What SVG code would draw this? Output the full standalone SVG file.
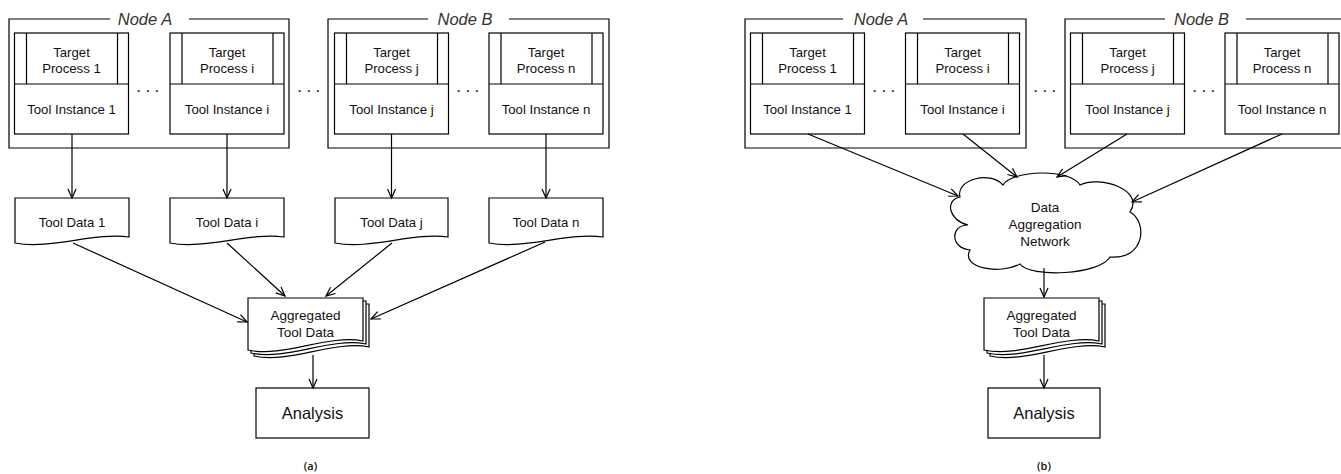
<svg xmlns="http://www.w3.org/2000/svg" xmlns:xlink="http://www.w3.org/1999/xlink" width="1341" height="474" viewBox="0 0 1341 474">
<style>
.s{fill:none;stroke:#000;stroke-width:1.2}
.w{fill:#fff;stroke:#000;stroke-width:1.2}
.t{font-family:"Liberation Sans",Arial,sans-serif;font-size:13.2px;text-anchor:middle;fill:#111}
.t2{font-family:"Liberation Sans",Arial,sans-serif;font-size:13.5px;text-anchor:middle;fill:#111}
.big{font-family:"Liberation Sans",Arial,sans-serif;font-size:16.5px;text-anchor:middle;fill:#111}
.lbl{font-family:"Liberation Sans",Arial,sans-serif;font-size:16.5px;font-style:italic;text-anchor:middle;fill:#333}
.dots{font-family:"Liberation Sans",Arial,sans-serif;font-size:17px;letter-spacing:4.5px;text-anchor:middle;fill:#111}
.cap{font-family:"Open Sans","Liberation Sans",sans-serif;font-size:11px;font-weight:600;text-anchor:middle;fill:#111}
.c{fill:none;stroke:#000;stroke-width:1.2;marker-end:url(#arr)}
</style>
<defs>
<marker id="arr" markerUnits="userSpaceOnUse" markerWidth="12" markerHeight="10" refX="10" refY="5" orient="auto">
<path d="M1,1 L10,5 L1,9" fill="none" stroke="#000" stroke-width="1.2"/>
</marker>
<path id="aggDoc" d="M0,0 H115 V43 C80,36 35,60 0,52 Z"/>
<g id="inst">
<rect x="0" y="0" width="114" height="101" class="w"/>
<line x1="0" y1="51" x2="114" y2="51" class="s"/>
<line x1="12" y1="0" x2="12" y2="51" class="s"/>
<line x1="103" y1="0" x2="103" y2="51" class="s"/>
</g>
</defs>

<!-- ===== (a) ===== -->
<g id="a-nodeA">
<path class="s" d="M189,19 H289 V148 H9 V19 H110"/>
<text class="lbl" x="145" y="25">Node A</text>
</g>
<g id="a-inst1">
<use xlink:href="#inst" x="14.5" y="33"/>
<text class="t" x="71.5" y="57">Target</text>
<text class="t" x="71.5" y="73">Process 1</text>
<text class="t" x="71.5" y="114">Tool Instance 1</text>
</g>
<g id="a-insti">
<use xlink:href="#inst" x="170" y="33"/>
<text class="t" x="227" y="57">Target</text>
<text class="t" x="227" y="73">Process i</text>
<text class="t" x="227" y="114">Tool Instance i</text>
</g>
<g id="a-nodeB">
<path class="s" d="M509,19 H609 V148 H328 V19 H428"/>
<text class="lbl" x="465" y="25">Node B</text>
</g>
<g id="a-instj">
<use xlink:href="#inst" x="334.5" y="33"/>
<text class="t" x="391.5" y="57">Target</text>
<text class="t" x="391.5" y="73">Process j</text>
<text class="t" x="391.5" y="114">Tool Instance j</text>
</g>
<g id="a-instn">
<use xlink:href="#inst" x="489" y="33"/>
<text class="t" x="546" y="57">Target</text>
<text class="t" x="546" y="73">Process n</text>
<text class="t" x="546" y="114">Tool Instance n</text>
</g>
<g id="a-dots">
<text class="dots" x="150" y="92">...</text>
<text class="dots" x="311" y="92">...</text>
<text class="dots" x="470" y="92">...</text>
</g>
<g id="a-data1">
<path class="w" d="M15,198 H129 V237 C95,232 49,250 15,243 Z"/>
<text class="t" x="72" y="227">Tool Data 1</text>
</g>
<g id="a-datai">
<path class="w" d="M170,198 H284 V237 C250,232 204,250 170,243 Z"/>
<text class="t" x="227" y="227">Tool Data i</text>
</g>
<g id="a-dataj">
<path class="w" d="M335,198 H448 V237 C414,232 369,250 335,243 Z"/>
<text class="t" x="391.5" y="227">Tool Data j</text>
</g>
<g id="a-datan">
<path class="w" d="M489,198 H603 V237 C569,232 523,250 489,243 Z"/>
<text class="t" x="546" y="227">Tool Data n</text>
</g>
<g id="a-agg">
<use xlink:href="#aggDoc" class="w" x="254" y="304"/>
<use xlink:href="#aggDoc" class="w" x="251" y="301"/>
<use xlink:href="#aggDoc" class="w" x="248" y="298"/>
<text class="t2" x="305.5" y="320">Aggregated</text>
<text class="t2" x="305.5" y="337">Tool Data</text>
</g>
<g id="a-analysis">
<rect class="w" x="256" y="388" width="113" height="50"/>
<text class="big" x="312.5" y="419">Analysis</text>
</g>
<text class="cap" x="310.5" y="470">(a)</text>

<!-- ===== (b) ===== -->
<g id="b-nodeA">
<path class="s" d="M923,19 H1026 V148 H745 V19 H843"/>
<text class="lbl" x="881" y="25">Node A</text>
</g>
<g id="b-inst1">
<use xlink:href="#inst" x="750.5" y="33"/>
<text class="t" x="807.5" y="57">Target</text>
<text class="t" x="807.5" y="73">Process 1</text>
<text class="t" x="807.5" y="114">Tool Instance 1</text>
</g>
<g id="b-insti">
<use xlink:href="#inst" x="905.5" y="33"/>
<text class="t" x="962.5" y="57">Target</text>
<text class="t" x="962.5" y="73">Process i</text>
<text class="t" x="962.5" y="114">Tool Instance i</text>
</g>
<g id="b-nodeB">
<path class="s" d="M1246,19 H1346 V148 H1065 V19 H1165"/>
<text class="lbl" x="1201.5" y="25">Node B</text>
</g>
<g id="b-instj">
<use xlink:href="#inst" x="1070.5" y="33"/>
<text class="t" x="1127.5" y="57">Target</text>
<text class="t" x="1127.5" y="73">Process j</text>
<text class="t" x="1127.5" y="114">Tool Instance j</text>
</g>
<g id="b-instn">
<use xlink:href="#inst" x="1225" y="33"/>
<text class="t" x="1282" y="57">Target</text>
<text class="t" x="1282" y="73">Process n</text>
<text class="t" x="1282" y="114">Tool Instance n</text>
</g>
<g id="b-dots">
<text class="dots" x="886" y="92">...</text>
<text class="dots" x="1047" y="92">...</text>
<text class="dots" x="1206" y="92">...</text>
</g>
<g id="b-cloud">
<path class="w" d="M960,197 C955,180 990,170 1003,185 C1012,170 1070,168 1080,185 C1100,175 1145,190 1130,212 C1148,222 1145,260 1110,257 C1100,275 1030,278 1020,264 C1000,275 960,268 970,250 C950,248 950,225 968,225 C948,220 945,200 960,197 Z"/>
<text class="t2" x="1045" y="212">Data</text>
<text class="t2" x="1045" y="229">Aggregation</text>
<text class="t2" x="1045" y="246">Network</text>
</g>
<g id="b-agg">
<use xlink:href="#aggDoc" class="w" x="990" y="304"/>
<use xlink:href="#aggDoc" class="w" x="987" y="301"/>
<use xlink:href="#aggDoc" class="w" x="984" y="298"/>
<text class="t2" x="1041.5" y="320">Aggregated</text>
<text class="t2" x="1041.5" y="337">Tool Data</text>
</g>
<g id="b-analysis">
<rect class="w" x="988" y="388" width="112" height="50"/>
<text class="big" x="1044" y="419">Analysis</text>
</g>
<text class="cap" x="1044" y="470">(b)</text>

<!-- ===== connectors ===== -->
<g id="connectors">
<line class="c" x1="72" y1="134" x2="72" y2="198"/>
<line class="c" x1="227" y1="134" x2="227" y2="198"/>
<line class="c" x1="391.5" y1="134" x2="391.5" y2="198"/>
<line class="c" x1="546" y1="134" x2="546" y2="198"/>
<line class="c" x1="73" y1="243" x2="247" y2="322"/>
<line class="c" x1="227" y1="243" x2="285" y2="296"/>
<line class="c" x1="392" y1="243" x2="326" y2="296"/>
<line class="c" x1="545" y1="242" x2="371" y2="319"/>
<line class="c" x1="313" y1="355" x2="313" y2="388"/>
<line class="c" x1="808" y1="134" x2="958" y2="196"/>
<line class="c" x1="963" y1="134" x2="1017" y2="177"/>
<line class="c" x1="1127" y1="134" x2="1057" y2="177"/>
<line class="c" x1="1282" y1="134" x2="1132" y2="202"/>
<line class="c" x1="1044" y1="268" x2="1044" y2="297"/>
<line class="c" x1="1044" y1="355" x2="1044" y2="388"/>
</g>
</svg>
